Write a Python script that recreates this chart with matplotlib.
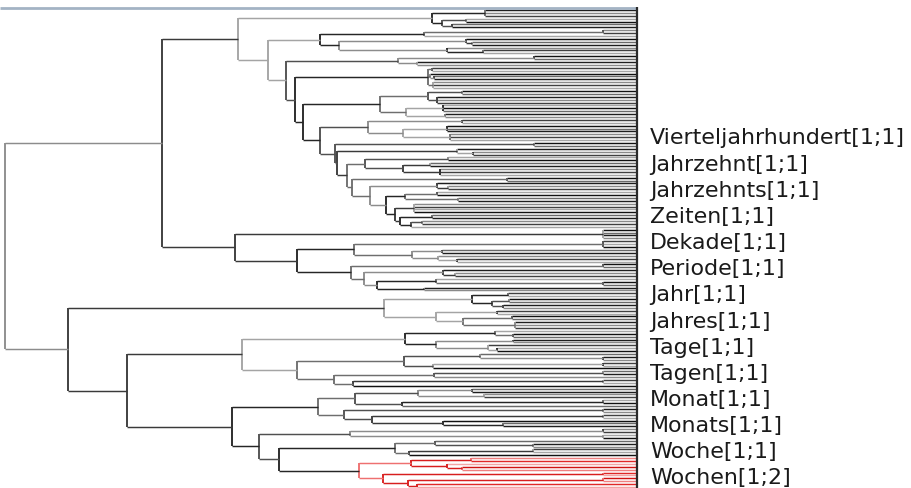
import matplotlib
matplotlib.use("Agg")
import matplotlib.pyplot as plt

# ---------------- data ----------------
# A node is (merge_level, [children]); L is a leaf. Merge levels are similarity
# levels on the horizontal axis (leaves sit at LEAF_LEVEL).
L = None
def T(level, *children):
    return (level, list(children))

LEAF_LEVEL = 637

S1 = T(432, T(485, L, L, L), T(442, T(466, L, L), T(452, L, L)))
S2a = T(320, T(424, T(603, L, L), L),
        T(339, T(466, L, T(472, L, L)), T(447, L, T(483, L, L))))
S2b1 = T(398, T(534, L, L), T(417, L, L))
S2b2a = T(428, T(432, L, L), T(430, L, T(434, L, L)), T(433, L, L, L))
S2b2b1 = T(380, T(428, T(462, L, L), T(437, L, L, L)),
           T(406, T(443, L, L, L), T(445, L, L)))
S2b2b2_top = T(368, T(462, L, L), T(403, T(447, L, L, L), T(450, L, L, L)))
LADDER = T(335,
           T(534, L, L),
           T(337,
             T(457, L, T(473, L, L)),
             T(347,
               T(365, T(448, L, L), T(403, T(430, L, L), T(440, L, L, L))),
               T(352,
                 T(507, L, L),
                 T(370,
                   T(437, L, T(448, L, L)),
                   T(386,
                     T(405, T(437, L, L), T(458, L, L)),
                     T(395,
                       T(414, L, L, L, L),
                       T(400,
                         T(432, L, L),
                         T(411, T(422, L, L), L)))))))))
A1 = T(238, S1, T(268, S2a, T(286, S2b1, T(295, S2b2a,
       T(303, S2b2b1, T(320, S2b2b2_top, LADDER))))))
A2 = T(235, T(603, L, L, L, L),
       T(297, T(354, T(603, L, L, L), T(412, T(442, L, L), T(438, L, T(457, L, L)))),
              T(351, T(603, L, L),
                T(364, T(443, L, T(455, L, L)),
                  T(377, T(436, L, T(603, L, L)), T(424, L, L))))))
B1 = T(384, T(472, T(508, L, L), T(492, T(509, L, L), T(503, L, L))),
            T(436, T(497, L, L), T(463, T(512, L, L), T(515, L, L, L))))
B2a = T(242, T(405, T(495, L, T(513, L, L)), T(436, T(513, L, L), T(488, L, T(497, L, L)))),
             T(297, T(404, T(480, L, T(603, L, L)), T(433, T(603, L, L), L)),
                    T(334, T(434, T(603, L, L), L), T(353, T(603, L, L), L))))
B2b1 = T(318, T(355, T(418, T(472, L, L), T(484, L, L)), T(402, T(603, L, L), L)),
              T(344, T(603, L, L), T(372, T(603, L, L), T(443, L, T(503, L, L)))))
RED = T(359, T(411, T(471, L, L), T(447, L, T(462, L, L))),
             T(383, T(603, L, L), T(408, T(603, L, L), T(417, L, L))))
WOCHE = T(279, T(395, T(435, L, T(533, L, L)), T(409, T(533, L, L), L)), RED)
B2b2 = T(259, T(350, T(603, L, L), T(603, L, L)), WOCHE)
B2 = T(127, B2a, T(232, B2b1, B2b2))
B = T(68, B1, B2)
ROOT = T(5, T(162, A1, A2), B)

labels = ["Vierteljahrhundert[1;1]", "Jahrzehnt[1;1]", "Jahrzehnts[1;1]",
          "Zeiten[1;1]", "Dekade[1;1]", "Periode[1;1]", "Jahr[1;1]",
          "Jahres[1;1]", "Tage[1;1]", "Tagen[1;1]", "Monat[1;1]",
          "Monats[1;1]", "Woche[1;1]", "Wochen[1;2]"]

# ---------------- styles ----------------
node_shades = ['#8c8c8c', '#3a3a3a', '#a4a4a4', '#262626', '#6e6e6e', '#505050']
leaf_shades = ['#1e1e1e', '#8a8a8a', '#404040', '#a6a6a6', '#111111', '#6a6a6a']
red_node = ['#d81e1e', '#ee7070']
red_leaf = ['#e02828', '#f3a5a5', '#d01212', '#ef8080']
LW = 1.05

def count_leaves(n):
    if n is None:
        return 1
    return sum(count_leaves(c) for c in n[1])

N = count_leaves(ROOT)
Y_TOP, Y_BOT = 11.0, 488.0
step = (Y_BOT - Y_TOP) / (N - 1)

fig = plt.figure(figsize=(9.11, 4.89), dpi=100)
ax = fig.add_axes([0, 0, 1, 1])
ax.set_xlim(0, 911)
ax.set_ylim(489, 0)
ax.axis('off')

state = {'leaf': 0, 'node': 0}

def draw(n, red=False):
    """returns (y, level) of this node"""
    if n is None:
        y = Y_TOP + state['leaf'] * step
        state['leaf'] += 1
        return y, LEAF_LEVEL
    level, children = n
    is_red = red or (n is RED)
    if is_red:
        col = red_node[state['node'] % len(red_node)]
    else:
        col = node_shades[state['node'] % len(node_shades)]
    state['node'] += 1
    pos = []
    for c in children:
        cy, cl = draw(c, is_red)
        if c is None:
            idx = state['leaf'] - 1
            pal = red_leaf if is_red else leaf_shades
            lc = pal[idx % len(pal)]
        else:
            lc = col
        ax.plot([level, cl], [cy, cy], color=lc, lw=LW, solid_capstyle='butt')
        pos.append(cy)
    ax.plot([level, level], [min(pos), max(pos)], color=col, lw=LW + 0.3,
            solid_capstyle='butt')
    return (pos[0] + pos[-1]) / 2.0, level

draw(ROOT)

# frame lines
ax.plot([0, LEAF_LEVEL], [9, 9], color='#a3b3c4', lw=2.0, solid_capstyle='butt')
ax.plot([LEAF_LEVEL, LEAF_LEVEL], [8, 489], color='#2a2a2a', lw=1.6,
        solid_capstyle='butt')

LAB_X, LAB_Y0, LAB_STEP = 650, 144.5, 26.15
for i, lab in enumerate(labels):
    ax.text(LAB_X, LAB_Y0 + i * LAB_STEP, lab, fontsize=15.9, color='#1a1a1a',
            family='DejaVu Sans', va='baseline', ha='left')

fig.savefig('out.png', dpi=100)
